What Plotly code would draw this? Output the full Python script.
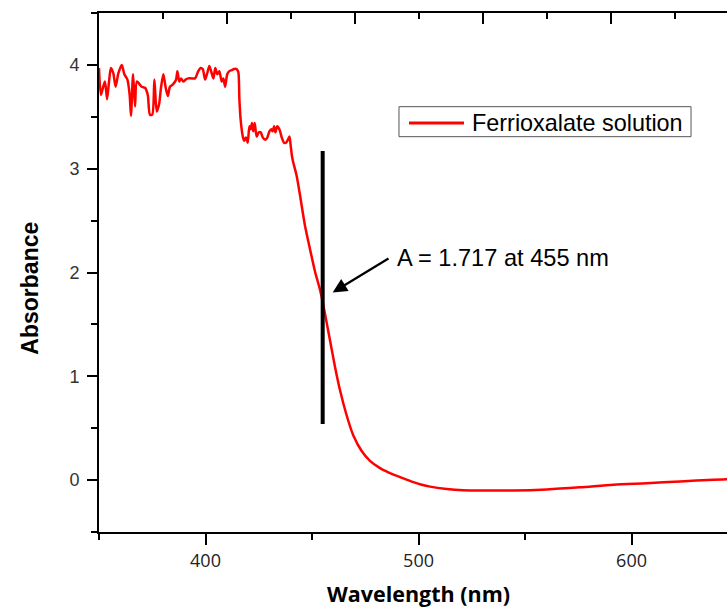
import plotly.graph_objects as go

# Data
wavelength = [350.0, 350.9, 352.0, 352.8, 353.8, 354.7, 355.6, 356.7, 357.8, 359.1, 360.7, 361.9, 363.3, 364.4,
              365.0, 366.0, 366.9, 367.8, 370.0, 371.6, 372.9, 373.9, 375.0, 376.0, 377.1, 378.2, 379.1, 380.2,
              381.3, 382.3, 383.3, 384.6, 386.2, 386.8, 387.7, 388.5, 389.6, 390.8, 391.9, 393.5, 395.1, 396.6,
              397.7, 398.7, 399.8, 400.8, 401.8, 402.9, 403.7, 404.6, 405.5, 406.5, 407.6, 408.4, 409.2, 410.2,
              411.2, 412.3, 413.4, 414.6, 415.4, 415.9, 416.5, 417.5, 418.1, 419.0, 419.8, 420.6, 421.2, 421.8,
              422.4, 423.1, 424.0, 425.0, 425.9, 426.9, 428.1, 429.0, 430.0, 430.9, 431.5, 432.2, 432.8, 433.7,
              434.7, 435.8, 436.9, 437.8, 438.7, 439.4, 440.0, 440.6, 441.2, 442.8, 444.4, 446.7, 449.1, 451.4,
              453.8, 455.0, 456.1, 458.5, 460.8, 463.2, 466.3, 469.4, 473.3, 477.2, 481.9, 485.8, 489.8, 493.7,
              497.6, 501.5, 505.4, 513.2, 521.0, 528.9, 544.5, 560.2, 575.8, 591.5, 607.1, 622.8, 638.4, 650.0]
absorbance = [3.97, 3.71, 3.79, 3.84, 3.67, 3.84, 3.97, 3.92, 3.79, 3.92, 4.00, 3.91, 3.86, 3.71,
              3.51, 3.91, 3.60, 3.84, 3.79, 3.78, 3.71, 3.52, 3.52, 3.86, 3.55, 3.62, 3.78, 3.91,
              3.78, 3.70, 3.79, 3.81, 3.86, 3.94, 3.84, 3.87, 3.84, 3.86, 3.87, 3.87, 3.87, 3.94,
              3.97, 3.96, 3.86, 3.92, 3.99, 3.92, 3.87, 3.97, 3.91, 3.94, 3.84, 3.87, 3.79, 3.91,
              3.94, 3.95, 3.96, 3.96, 3.93, 3.67, 3.47, 3.31, 3.27, 3.30, 3.25, 3.41, 3.38, 3.44,
              3.36, 3.44, 3.31, 3.35, 3.35, 3.30, 3.28, 3.30, 3.36, 3.38, 3.36, 3.41, 3.35, 3.41,
              3.38, 3.30, 3.25, 3.25, 3.28, 3.31, 3.22, 3.12, 3.06, 2.93, 2.74, 2.45, 2.22, 2.01,
              1.83, 1.717, 1.60, 1.34, 1.09, 0.86, 0.62, 0.43, 0.28, 0.185, 0.115, 0.075, 0.04, 0.01,
              -0.02, -0.045, -0.063, -0.085, -0.097, -0.10, -0.10, -0.09, -0.07, -0.045, -0.03, -0.013, 0.003, 0.01]

marker_wavelength = [455, 455]
marker_span = [0.54, 3.17]
annot_text = "A = 1.717 at 455 nm"
series_name = "Ferrioxalate solution"

x_tick_vals = [400, 500, 600]
y_tick_vals = [0, 1, 2, 3, 4]

fig = go.Figure()
fig.add_trace(go.Scatter(x=wavelength, y=absorbance, mode="lines", name=series_name,
                         line=dict(color="#FF0000", width=2.5, shape="spline", smoothing=0.7),
                         showlegend=False))
fig.add_trace(go.Scatter(x=marker_wavelength, y=marker_span, mode="lines",
                         line=dict(color="black", width=4), showlegend=False))
# invisible trace on the top axis so it is drawn
fig.add_trace(go.Scatter(x=[0, 1], y=[0, 0], xaxis="x2", mode="lines",
                         line=dict(width=0), opacity=0, showlegend=False, hoverinfo="skip"))

fig.update_layout(
    width=727, height=607,
    margin=dict(l=99, r=0, t=13, b=75),
    paper_bgcolor="white", plot_bgcolor="white",
    showlegend=False,
    xaxis=dict(range=[350, 644.8], tickvals=x_tick_vals, ticktext=[str(v) for v in x_tick_vals],
               showline=True, linecolor="black", linewidth=2,
               ticks="outside", ticklen=11, tickwidth=2, tickcolor="black",
               minor=dict(dtick=50, tick0=0, ticks="outside", ticklen=6, tickwidth=2, tickcolor="black"),
               showgrid=False, zeroline=False,
               tickfont=dict(family="Open Sans", size=18, color="#222")),
    xaxis2=dict(range=[0, 628 / 128], overlaying="x", side="top", anchor="y",
                showline=True, linecolor="black", linewidth=2,
                ticks="inside", ticklen=11, tickwidth=2, tickcolor="black", dtick=1, tick0=0,
                minor=dict(dtick=0.5, ticks="inside", ticklen=6, tickwidth=2, tickcolor="black"),
                showticklabels=False, showgrid=False, zeroline=False),
    yaxis=dict(range=[-0.5, 4.5], tickvals=y_tick_vals,
               showline=True, linecolor="black", linewidth=2,
               ticks="outside", ticklen=10, tickwidth=2, tickcolor="black",
               minor=dict(dtick=0.5, tick0=0.5, ticks="outside", ticklen=6, tickwidth=2, tickcolor="black"),
               showgrid=False, zeroline=False, ticklabelstandoff=4,
               tickfont=dict(family="Liberation Sans, Arial", size=18, color="#333")),
)

# axis titles
fig.add_annotation(text="<b>Absorbance</b>", xref="paper", yref="paper", x=-0.11, y=0.4707,
                   textangle=-90, showarrow=False, xanchor="center", yanchor="middle",
                   font=dict(family="Liberation Sans, Arial", size=23, color="black"))
fig.add_annotation(text="<b>Wavelength (nm)</b>", xref="paper", yref="paper", x=0.508, y=-0.119,
                   showarrow=False, xanchor="center", yanchor="middle",
                   font=dict(family="Open Sans", size=21.5, color="black"))

# arrow and label
fig.add_annotation(x=459.7, y=1.808, ax=486.6, ay=2.144, xref="x", yref="y", axref="x", ayref="y",
                   text="", showarrow=True, arrowhead=2, arrowsize=1.3, arrowwidth=2.2, arrowcolor="black")
fig.add_annotation(x=489.0, y=2.142, xref="x", yref="y", text=annot_text, showarrow=False,
                   xanchor="left", yanchor="middle",
                   font=dict(family="Liberation Sans, Arial", size=23.6, color="black"))

# legend box (drawn manually to match the reference proportions)
fig.add_shape(type="rect", xref="paper", yref="paper", x0=0.4777, x1=0.9427, y0=0.7617, y1=0.8195,
              line=dict(color="#555", width=1), fillcolor="white", layer="above")
fig.add_shape(type="line", xref="paper", yref="paper", x0=0.4936, x1=0.5812, y0=0.788, y1=0.788,
              line=dict(color="#FF0000", width=3), layer="above")
fig.add_annotation(text=series_name, xref="paper", yref="paper", x=0.5915, y=0.788,
                   showarrow=False, xanchor="left", yanchor="middle",
                   font=dict(family="Liberation Sans, Arial", size=23.4, color="black"))

fig.write_html("out.html")
